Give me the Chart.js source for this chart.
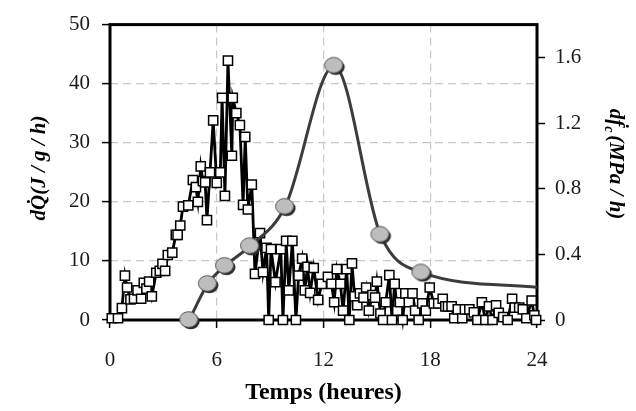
<!DOCTYPE html>
<html>
<head>
<meta charset="utf-8">
<script src="https://cdn.jsdelivr.net/npm/chart.js@4"></script>
<style>
  html, body { margin: 0; padding: 0; background: #fff; }
  #box { width: 636px; height: 411px; }
</style>
</head>
<body>
<div id="box"><canvas id="chart"></canvas></div>
<script>
// heat flow (squares), left axis
const sqTime = [0.1, 0.45, 0.67, 0.84, 0.96, 1.15, 1.35, 1.55, 1.75, 1.9, 2.05, 2.2, 2.35, 2.6, 2.8, 2.95, 3.1, 3.25, 3.5, 3.7,
    3.8, 3.95, 4.1, 4.4, 4.66, 4.83, 4.94, 5.1, 5.22, 5.35, 5.45, 5.62, 5.8, 6.0, 6.2, 6.3, 6.46, 6.63, 6.85, 6.9,
    7.1, 7.3, 7.48, 7.6, 7.75, 7.97, 8.15, 8.43, 8.6, 8.8, 8.92, 9.05, 9.3, 9.6, 9.72, 9.9, 10.05, 10.25, 10.45, 10.6,
    10.8, 10.95, 11.1, 11.25, 11.45, 11.7, 11.9, 12.25, 12.45, 12.6, 12.75, 12.95, 13.1, 13.3, 13.45, 13.6, 13.75, 13.9, 14.05, 14.25,
    14.4, 14.55, 14.75, 14.9, 15.0, 15.2, 15.35, 15.5, 15.7, 15.85, 16.0, 16.15, 16.3, 16.45, 16.6, 16.8, 17.0, 17.15, 17.35, 17.55,
    17.75, 17.97, 18.2, 18.45, 18.7, 18.85, 19.0, 19.2, 19.35, 19.55, 19.8, 19.95, 20.2, 20.45, 20.65, 20.9, 21.1, 21.3, 21.5, 21.7,
    21.85, 22.1, 22.35, 22.6, 22.75, 23.0, 23.2, 23.4, 23.7, 23.85, 23.95]
const sqRate = [0.3, 0.3, 2, 7.5, 5.5, 3.5, 3.6, 5, 3.6, 6.3, 5.3, 6.5, 4, 8, 8.3, 9.5, 8.3, 11, 11.4, 14.4,
    14.4, 16, 19.2, 19.4, 23.7, 22.5, 20, 26, 23.5, 23.3, 16.9, 25, 33.8, 23.2, 25, 37.6, 21, 43.9, 27.8, 37.6,
    35, 33, 19.5, 31, 18.7, 22.9, 7.8, 14.7, 8.1, 12.2, 0, 12, 6.4, 12, 0, 13.4, 5, 13.4, 0, 7.5,
    10.4, 5, 9, 4.6, 8.8, 3.4, 6.1, 7.3, 6.1, 3, 8.6, 6.1, 1.6, 8.6, 0, 9.6, 4, 2.5, 4.5, 3.8,
    5.5, 1.6, 4.2, 3.8, 6.5, 1.1, 0, 3, 7.6, 0, 6.1, 1.6, 3, 0, 4.5, 3, 4.5, 1.6, 0, 2.8,
    1.6, 5.5, 2.8, 2.8, 3.6, 2.3, 2.3, 2.3, 0.3, 1.8, 0.3, 1.8, 1.8, 1.3, 0, 3, 0, 2.3, 0, 2.5,
    1.2, 0.5, 0, 3.6, 2.1, 2.1, 1.8, 0.3, 3.3, 0.8, 0]

// strength rate (circles), right axis - last point is the line end only
const fcTime = [4.45, 5.5, 6.46, 7.87, 9.84, 12.6, 15.2, 17.5, 24]
const fcRate = [0, 0.22, 0.33, 0.45, 0.69, 1.55, 0.52, 0.29, 0.2]

const xTicks = [0, 6, 12, 18, 24]
const leftTicks = [0, 10, 20, 30, 40, 50]
const rightTicks = [0, 0.4, 0.8, 1.2, 1.6]

const serif = "'Liberation Serif', 'DejaVu Serif', serif"

// gray ball with a little shadow
function make_ball() {
    let c = document.createElement('canvas')
    c.width = 24
    c.height = 22
    let g = c.getContext('2d')
    g.fillStyle = '#2a2a2a'
    g.beginPath()
    g.ellipse(13.5, 12.5, 9, 7.8, 0, 0, Math.PI * 2)
    g.fill()
    g.fillStyle = '#bdbdbd'
    g.strokeStyle = '#555'
    g.lineWidth = 1
    g.beginPath()
    g.ellipse(11.5, 10.5, 9, 7.8, 0, 0, Math.PI * 2)
    g.fill()
    g.stroke()
    return c
}
const ball = make_ball()

const axisTitles = {
    id: 'axisTitles',
    afterDraw(chart) {
        let ctx = chart.ctx
        ctx.save()
        ctx.fillStyle = '#000'
        ctx.textBaseline = 'middle'
        ctx.textAlign = 'center'
        ctx.font = "bold italic 21px " + serif
        // left title, bottom to top
        ctx.save()
        ctx.translate(40, 168)
        ctx.rotate(-Math.PI / 2)
        ctx.fillText('dQ\u0307(J / g / h)', 0, 0)
        ctx.restore()
        // right title, top to bottom, with subscript c
        ctx.save()
        ctx.translate(615, 164)
        ctx.rotate(Math.PI / 2)
        ctx.textAlign = 'left'
        let a = 'd\u1E1F'
        let b = '(MPa / h)'
        ctx.font = "bold italic 21px " + serif
        let wa = ctx.measureText(a).width
        let wb = ctx.measureText(b).width
        ctx.font = "bold italic 14px " + serif
        let wc = ctx.measureText('c').width
        let x0 = -(wa + wc + 3 + wb) / 2
        ctx.font = "bold italic 21px " + serif
        ctx.fillText(a, x0, 0)
        ctx.font = "bold italic 14px " + serif
        ctx.fillText('c', x0 + wa, 6)
        ctx.font = "bold italic 21px " + serif
        ctx.fillText(b, x0 + wa + wc + 3, 0)
        ctx.restore()
        ctx.restore()
    }
}

const frame = {
    id: 'frame',
    beforeDatasetsDraw(chart) {
        let a = chart.chartArea
        let ctx = chart.ctx
        ctx.save()
        ctx.strokeStyle = '#000'
        ctx.lineWidth = 3
        ctx.strokeRect(a.left, a.top, a.right - a.left, a.bottom - a.top)
        ctx.restore()
    }
}

function inner_grid(ctx) {
    let v = ctx.tick ? ctx.tick.value : null
    let s = ctx.scale
    if (v === s.min || v === s.max) return 'rgba(0,0,0,0)'
    return '#c8c8c8'
}

new Chart(document.querySelector('#chart'), {
    type: 'line',
    data: {
        datasets: [{
            label: 'fc',
            data: fcTime.map((t, i) => ({ x: t, y: fcRate[i] })),
            yAxisID: 'y1',
            borderColor: '#3c3c3c',
            borderWidth: 3,
            cubicInterpolationMode: 'monotone',
            pointStyle: ball,
            pointRadius: (c) => c.dataIndex === fcTime.length - 1 ? 0 : 10,
            clip: false,
            order: 0
        }, {
            label: 'Q',
            data: sqTime.map((t, i) => ({ x: t, y: sqRate[i] })),
            yAxisID: 'y',
            borderColor: '#000',
            borderWidth: 2.8,
            tension: 0,
            pointStyle: 'rect',
            pointRadius: 6.5,
            pointBackgroundColor: '#fff',
            pointBorderColor: '#000',
            pointBorderWidth: 1.5,
            clip: false,
            order: 1
        }]
    },
    options: {
        responsive: true,
        maintainAspectRatio: false,
        animation: false,
        events: [],
        layout: { padding: { top: 18, left: 0, right: 0, bottom: 0 } },
        plugins: {
            legend: { display: false },
            tooltip: { enabled: false }
        },
        scales: {
            x: {
                type: 'linear',
                min: 0,
                max: 24,
                afterBuildTicks: (s) => { s.ticks = xTicks.map(v => ({ value: v })) },
                afterFit: (s) => { s.height = 91 },
                grid: { color: inner_grid, tickColor: '#000', tickLength: 8, tickWidth: 1.5, lineWidth: 1.2 },
                border: { display: false, dash: [8, 5] },
                ticks: { color: '#1a1a1a', padding: 20, maxRotation: 0, font: { family: serif, size: 21 } },
                title: {
                    display: true,
                    text: 'Temps (heures)',
                    color: '#000',
                    padding: { top: 0, bottom: 4 },
                    font: { family: serif, size: 24, weight: 'bold' }
                }
            },
            y: {
                position: 'left',
                min: 0,
                max: 50,
                afterBuildTicks: (s) => { s.ticks = leftTicks.map(v => ({ value: v })) },
                afterFit: (s) => { s.width = 110 },
                grid: { color: inner_grid, tickColor: '#000', tickLength: 8, tickWidth: 1.5, lineWidth: 1.2 },
                border: { display: false, dash: [8, 5] },
                ticks: { color: '#1a1a1a', padding: 12, font: { family: serif, size: 21 } }
            },
            y1: {
                position: 'right',
                min: 0,
                max: 1.8,
                afterBuildTicks: (s) => { s.ticks = rightTicks.map(v => ({ value: v })) },
                afterFit: (s) => { s.width = 99 },
                grid: { drawOnChartArea: false, tickColor: '#000', tickLength: 8, tickWidth: 1.5 },
                border: { display: false },
                ticks: {
                    color: '#1a1a1a',
                    padding: 10,
                    font: { family: serif, size: 21 },
                    callback: (v) => v === 0 ? '0' : v.toFixed(1)
                }
            }
        }
    },
    plugins: [frame, axisTitles]
})
</script>
</body>
</html>
